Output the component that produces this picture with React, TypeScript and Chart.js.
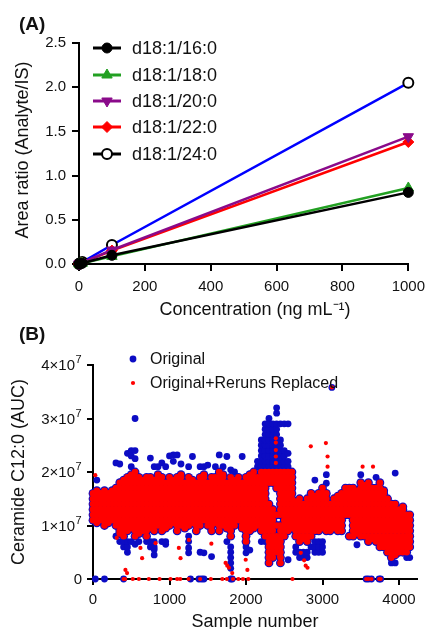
import React, { useEffect, useRef } from 'react';
import { Chart, registerables } from 'chart.js';

Chart.register(...registerables);

const FONT = "'Liberation Sans', Arial, Helvetica, sans-serif";
const TEXT = '#111111';

// ---------------- Panel A : calibration lines ----------------
const concentrations = [0, 1, 5, 10, 100, 1000];
const cer16 = [0, 0.001, 0.004, 0.009, 0.098, 0.81];
const cer18 = [0, 0.001, 0.004, 0.009, 0.086, 0.86];
const cer20 = [0, 0.002, 0.008, 0.016, 0.158, 1.44];
const cer22 = [0, 0.002, 0.007, 0.015, 0.152, 1.38];
const cer24 = [0, 0.002, 0.011, 0.022, 0.215, 2.05];
const seriesALabels = ['d18:1/16:0', 'd18:1/18:0', 'd18:1/20:0', 'd18:1/22:0', 'd18:1/24:0'];
const seriesAValues = [cer16, cer18, cer20, cer22, cer24];
const xTicksA = [0, 200, 400, 600, 800, 1000];
const yTicksA = [0, 0.5, 1, 1.5, 2, 2.5];

// ---------------- Panel B : Ceramide C12:0 AUC (x 1e6) ----------------
const xTicksB = [0, 1000, 2000, 3000, 4000];
const yTicksB = [0, 1, 2, 3, 4]; // x 1e7
const colX = [
  0, 50, 100, 150, 200, 250, 300, 350, 400, 450, 500, 550, 600, 650, 700, 750, 800, 850, 900, 950,
  1000, 1050, 1100, 1150, 1200, 1250, 1300, 1350, 1400, 1450, 1500, 1550, 1600, 1650, 1700, 1750, 1800, 1850, 1900, 1950,
  2000, 2050, 2100, 2150, 2200, 2250, 2300, 2350, 2400, 2450, 2500, 2550, 2600, 2650, 2700, 2750, 2800, 2850, 2900, 2950,
  3000, 3050, 3100, 3150, 3200, 3250, 3300, 3350, 3400, 3450, 3500, 3550, 3600, 3650, 3700, 3750, 3800, 3850, 3900, 3950,
  4000, 4050, 4100, 4140,
];
// values present in both series (not replaced)
const bandValues = [
  [11, 12, 13, 14, 15, 16],
  [10.5, 11, 12, 13, 14, 15, 16, 16.5],
  [11, 12, 13, 14, 15, 16],
  [10, 11, 12, 13, 14, 15, 16, 16.5],
  [10.5, 11, 12, 13, 14, 15, 16],
  [11, 12, 13, 14, 15, 16, 16.5],
  [10, 11, 12, 13, 14, 15, 16, 17],
  [8.5, 9, 10, 11, 12, 13, 14, 15, 16, 17, 18],
  [8, 9, 10, 11, 12, 13, 14, 15, 16, 17, 18, 18.5],
  [9, 10, 11, 12, 13, 14, 15, 16, 17, 18, 19],
  [9.5, 10, 11, 12, 13, 14, 15, 16, 17, 18, 19, 19.5],
  [8, 9, 10, 11, 12, 13, 14, 15, 16, 17, 18, 19, 20],
  [8.5, 9, 10, 11, 12, 13, 14, 15, 16, 17, 18, 19],
  [9, 10, 11, 12, 13, 14, 15, 16, 17, 18, 18.5],
  [8, 9, 10, 11, 12, 13, 14, 15, 16, 17, 18, 19],
  [9.5, 10, 11, 12, 13, 14, 15, 16, 17, 18, 19],
  [9, 10, 11, 12, 13, 14, 15, 16, 17, 18, 18.5],
  [10, 11, 12, 13, 14, 15, 16, 17, 18, 19, 19.5],
  [9, 10, 11, 12, 13, 14, 15, 16, 17, 18, 19],
  [9.5, 10, 11, 12, 13, 14, 15, 16, 17, 18],
  [10, 11, 12, 13, 14, 15, 16, 17, 18, 19],
  [10.5, 11, 12, 13, 14, 15, 16, 17, 18, 18.5],
  [9, 10, 11, 12, 13, 14, 15, 16, 17, 18, 19],
  [10, 11, 12, 13, 14, 15, 16, 17, 18, 19, 19.5],
  [9.5, 10, 11, 12, 13, 14, 15, 16, 17, 18],
  [10, 11, 12, 13, 14, 15, 16, 17, 18, 19],
  [10.5, 11, 12, 13, 14, 15, 16, 17, 18, 18.5],
  [9, 10, 11, 12, 13, 14, 15, 16, 17, 18],
  [10, 11, 12, 13, 14, 15, 16, 17, 18, 19],
  [11, 12, 13, 14, 15, 16, 17, 18, 19, 19.5],
  [10, 11, 12, 13, 14, 15, 16, 17, 18],
  [9, 10, 11, 12, 13, 14, 15, 16, 17, 18, 19],
  [10.5, 11, 12, 13, 14, 15, 16, 17, 18, 19],
  [9, 10, 11, 12, 13, 14, 15, 16, 17, 18, 19, 20],
  [10, 11, 12, 13, 14, 15, 16, 17, 18, 19, 19.5],
  [9.5, 10, 11, 12, 13, 14, 15, 16, 17, 18],
  [8, 9, 10, 11, 12, 13, 14, 15, 16, 17, 18, 19],
  [10, 11, 12, 13, 14, 15, 16, 17, 18, 18.5],
  [11, 12, 13, 14, 15, 16, 17, 18, 19],
  [9.5, 10, 11, 12, 13, 14, 15, 16, 17, 18],
  [7, 8, 9, 10, 11, 12, 13, 14, 15, 16, 17, 18, 19],
  [9, 10, 11, 12, 13, 14, 15, 16, 17, 18, 19, 19.5],
  [9.5, 10, 11, 12, 13, 14, 15, 16, 17, 18, 19, 20],
  [10, 11, 12, 13, 14, 15, 16, 17, 18, 19],
  [9, 10, 11, 12, 13, 14, 15, 16, 17, 18, 19, 20],
  [8, 9, 10, 11, 12, 13, 14, 15, 16, 17, 18, 19, 20],
  [3, 4, 5, 6, 7, 8, 9, 10, 11, 12, 13, 14, 18, 19, 20],
  [4, 5, 6, 7, 8, 9, 10, 11, 12, 13, 18, 19, 20],
  [5, 6, 7, 8, 10, 12, 17, 18, 19, 20],
  [3, 4, 5, 6, 7, 8, 9, 10, 12, 13, 14, 15, 16, 17, 18, 19, 20],
  [8, 9, 10, 11, 12, 13, 14, 15, 16, 17, 18, 19, 20],
  [9, 10, 11, 12, 13, 14, 15, 16, 17, 18, 19, 20],
  [9.5, 10, 11, 12, 13, 14, 15, 16, 17, 18, 19, 20],
  [8, 9, 10, 11, 12, 13, 14, 14.5],
  [7, 8, 9, 10, 11, 12, 13, 14, 15],
  [7.5, 8, 9, 10, 11, 12, 13, 14],
  [7, 8, 9, 10, 11, 12, 13, 14, 15],
  [8, 9, 10, 11, 12, 13, 14, 15, 16],
  [9, 10, 11, 12, 13, 14, 15, 15.5],
  [9, 10, 11, 12, 13, 14, 15, 16],
  [9.5, 10, 11, 12, 13, 14, 15, 16, 17],
  [9, 10, 11, 12, 13, 14, 15, 16],
  [9, 10, 11, 12, 13, 14],
  [9.5, 10, 11, 12, 13, 14, 15],
  [9, 10, 11, 12, 13, 14, 15, 15.5],
  [9, 10, 11, 12, 13, 14, 15, 16],
  [12, 13, 14, 15, 16, 17],
  [8, 12, 13, 14, 15, 16, 17],
  [8, 9, 10, 11, 12, 13, 14, 15, 16, 17],
  [8.5, 9, 10, 11, 12, 13, 14, 15, 16, 16.5],
  [8, 9, 10, 11, 12, 13, 14, 15, 16, 17, 18],
  [8, 9, 10, 11, 12, 13, 14, 15, 16, 17, 17.5],
  [7, 8, 9, 10, 11, 12, 13, 14, 15, 16, 17, 18],
  [7.5, 8, 9, 10, 11, 12, 13, 14, 15, 16, 17],
  [7, 8, 9, 10, 11, 12, 13, 14, 15, 16, 17],
  [6, 7, 8, 9, 10, 11, 12, 13, 14, 15, 16, 17, 18],
  [6, 7, 8, 9, 10, 11, 12, 13, 14, 15, 16, 16.5],
  [5, 6, 7, 8, 9, 10, 11, 12, 13, 14, 15],
  [4, 5, 6, 7, 8, 9, 10, 11, 12, 13, 14],
  [4.5, 5, 6, 7, 8, 9, 10, 11, 12, 13, 14],
  [5, 6, 7, 8, 9, 10, 11, 12, 13],
  [5, 6, 7, 8, 9, 10, 11, 12, 13, 13.5],
  [5, 6, 7, 8, 9, 10, 11, 12],
  [6, 7, 8, 9, 10, 11, 12],
];
// original-only values (later replaced by reruns)
const originalOnly = [
  [], [18.5], [], [], [], [], [8, 21.7], [7, 21.5],
  [6, 7], [5, 6, 7, 23.5], [7, 21, 24, 23], [6.5, 30, 24, 22.5], [7], [],
  [7], [6, 7, 22.6], [4.5, 5.5, 6, 7, 21], [21], [7, 21.7],
  [6.5, 7, 21], [23], [23.2, 22], [23.2], [21.5], [],
  [4.9, 5.8, 7, 8, 21], [22.9], [], [5, 21], [4.9, 21],
  [21.3], [4.2], [21], [23.2], [21], [7, 22.9],
  [2, 3, 4, 5, 6, 20.4], [20], [], [22.9], [4.9, 6],
  [5.4], [], [21, 22], [7, 21, 22, 23, 24, 25, 26],
  [7, 21, 22, 23, 24, 25, 26, 27, 28, 29], [21, 22, 23, 24, 25, 26, 27, 28, 29, 30],
  [21, 22, 23, 24, 25, 26, 27, 28, 29], [21, 22, 23, 24, 25, 26, 27, 28, 29, 31, 32],
  [21, 22, 23, 24, 25, 26, 29], [21, 22, 23, 24, 29], [3.6, 21, 22, 23.5, 29], [],
  [5, 6], [4, 5], [4, 5], [4, 5], [6], [5, 6, 7, 18.5],
  [5, 6, 7], [5, 6, 7], [17.9, 19.5], [], [], [], [],
  [], [], [], [6.4], [19.5], [], [], [], [19],
  [], [], [], [3], [3, 19.8], [], [], [4], [4],
];
const originalOutX = [3122, 30, 150, 400, 1275, 1385, 1420, 1450, 1800, 1820, 3570, 3600, 3640, 3740, 3760];
const originalOutY = [35.8, 0, 0, 0, 0, 0, 0, 0, 0, 0, 0, 0, 0, 0, 0];
const replacedOutX = [
  30, 310, 424, 445, 620, 642, 817, 1122, 1144, 1253, 1547, 1733, 1755, 1777, 1820, 1996, 2018,
  2390, 2390, 2390, 2390, 2390, 2432, 2716, 2760, 2780, 2804, 2847, 3044, 3066, 3066, 3524, 3660, 3122,
  400, 420, 520, 600, 730, 870, 1013, 1100, 1140, 1250, 1400, 1540, 1690, 1750, 1830, 1900, 1960, 2030,
  2607, 3570, 3600, 3640, 3740, 3760,
];
const replacedOutY = [
  19.4, 7.7, 1.7, 1.1, 5.8, 3.9, 6.7, 5.8, 3.9, 7.3, 6.6, 3.0, 2.5, 2.1, 1.1, 3.6, 1.7,
  26.3, 25.5, 24.1, 22.9, 21.7, 4.2, 4.9, 3.5, 2.5, 2.1, 24.8, 25.4, 22.9, 21, 21, 21, 35.8,
  0, 0, 0, 0, 0, 0, 0, 0, 0, 0, 0, 0, 0, 0, 0, 0, 0, 0,
  0, 0, 0, 0, 0, 0,
];
const AUC_UNIT = 1e6;

// ---------------- styles ----------------
const stylesA = [
  { line: '#000000', legendLine: '#000000', shape: 'circle', fill: '#000000', stroke: '#000000', bw: 1, rot: 0, r: 5 },
  { line: '#22a022', legendLine: '#22a022', shape: 'triangle', fill: '#22a022', stroke: '#22a022', bw: 1, rot: 0, r: 6 },
  { line: '#8a0a8a', legendLine: '#8a0a8a', shape: 'triangle', fill: '#8a0a8a', stroke: '#8a0a8a', bw: 1, rot: 180, r: 6 },
  { line: '#ff0000', legendLine: '#ff0000', shape: 'rectRot', fill: '#ff0000', stroke: '#ff0000', bw: 1, rot: 0, r: 5.5 },
  { line: '#0000ff', legendLine: '#000000', shape: 'circle', fill: '#ffffff', stroke: '#000000', bw: 2, rot: 0, r: 5 },
];
const BLUE = '#0c0cc4';
const RED = '#ff0000';

function drawMarker(ctx: CanvasRenderingContext2D, s: any, x: number, y: number) {
  ctx.save();
  ctx.translate(x, y);
  ctx.rotate((s.rot * Math.PI) / 180);
  ctx.beginPath();
  const r = s.r;
  if (s.shape === 'circle') {
    ctx.arc(0, 0, r, 0, Math.PI * 2);
  } else if (s.shape === 'triangle') {
    for (let k = 0; k < 3; k++) {
      const a = (k * 2 * Math.PI) / 3;
      const px = Math.sin(a) * r;
      const py = -Math.cos(a) * r;
      if (k === 0) ctx.moveTo(px, py);
      else ctx.lineTo(px, py);
    }
    ctx.closePath();
  } else {
    ctx.moveTo(-r, 0);
    ctx.lineTo(0, -r);
    ctx.lineTo(r, 0);
    ctx.lineTo(0, r);
    ctx.closePath();
  }
  ctx.fillStyle = s.fill;
  ctx.fill();
  ctx.lineWidth = s.bw;
  ctx.strokeStyle = s.stroke;
  ctx.stroke();
  ctx.restore();
}

function axisCommon(fontSize: number, tickLen: number, pad: number) {
  return {
    ticks: { font: { family: FONT, size: fontSize }, color: TEXT, padding: pad, maxRotation: 0, autoSkip: false },
    grid: { drawOnChartArea: false, drawTicks: true, tickLength: tickLen, color: '#000000', lineWidth: 2 },
    border: { display: true, color: '#000000', width: 2 },
  };
}

const setTicks = (vals: number[]) => (s: any) => {
  s.ticks = vals.map((v) => ({ value: v }));
};

const panelAPlugin = {
  id: 'panelADecor',
  afterDraw(chart: any) {
    const ctx: CanvasRenderingContext2D = chart.ctx;
    ctx.save();
    ctx.fillStyle = TEXT;
    ctx.textBaseline = 'middle';
    ctx.font = `bold 19px ${FONT}`;
    ctx.textAlign = 'left';
    ctx.fillText('(A)', 19, 25);
    ctx.font = `18px ${FONT}`;
    ctx.textAlign = 'center';
    ctx.fillText('Concentration (ng mL\u207B\u00B9)', 255, 310);
    ctx.save();
    ctx.translate(23, 150);
    ctx.rotate(-Math.PI / 2);
    ctx.fillText('Area ratio (Analyte/IS)', 0, 0);
    ctx.restore();
    // legend
    const rows = [48, 75, 101, 127, 154];
    seriesALabels.forEach((lab, i) => {
      const s = stylesA[i];
      const y = rows[i];
      ctx.beginPath();
      ctx.moveTo(93, y);
      ctx.lineTo(121, y);
      ctx.lineWidth = 3;
      ctx.strokeStyle = s.legendLine;
      ctx.stroke();
      drawMarker(ctx, s, 107, y);
      ctx.fillStyle = TEXT;
      ctx.font = `18px ${FONT}`;
      ctx.textAlign = 'left';
      ctx.textBaseline = 'middle';
      ctx.fillText(lab, 132, y + 1);
    });
    ctx.restore();
  },
};

const panelBPlugin = {
  id: 'panelBDecor',
  afterDraw(chart: any) {
    const ctx: CanvasRenderingContext2D = chart.ctx;
    const yScale = chart.scales.y;
    ctx.save();
    ctx.fillStyle = TEXT;
    ctx.textBaseline = 'middle';
    ctx.font = `bold 19px ${FONT}`;
    ctx.textAlign = 'left';
    ctx.fillText('(B)', 19, 15);
    ctx.font = `18px ${FONT}`;
    ctx.textAlign = 'center';
    ctx.fillText('Sample number', 255, 302);
    ctx.save();
    ctx.translate(19, 152);
    ctx.rotate(-Math.PI / 2);
    ctx.fillText('Ceramide C12:0 (AUC)', 0, 0);
    ctx.restore();
    // y tick labels with superscript exponent
    yTicksB.forEach((m) => {
      const py = yScale.getPixelForValue(m * 1e7);
      ctx.fillStyle = TEXT;
      ctx.textAlign = 'right';
      ctx.textBaseline = 'middle';
      if (m === 0) {
        ctx.font = `15px ${FONT}`;
        ctx.fillText('0', 82, py + 1);
      } else {
        ctx.font = `15px ${FONT}`;
        ctx.fillText(`${m}\u00D710`, 75, py + 1);
        ctx.font = `11px ${FONT}`;
        ctx.textAlign = 'left';
        ctx.fillText('7', 75.5, py - 5);
      }
    });
    // legend
    ctx.beginPath();
    ctx.arc(133, 39, 3.4, 0, Math.PI * 2);
    ctx.fillStyle = BLUE;
    ctx.fill();
    ctx.beginPath();
    ctx.arc(133, 63, 2.1, 0, Math.PI * 2);
    ctx.fillStyle = RED;
    ctx.fill();
    ctx.fillStyle = TEXT;
    ctx.font = `16px ${FONT}`;
    ctx.textAlign = 'left';
    ctx.textBaseline = 'middle';
    ctx.fillText('Original', 150, 40);
    ctx.fillText('Original+Reruns Replaced', 150, 64);
    ctx.restore();
  },
};

function ChartA() {
  const ref = useRef<HTMLCanvasElement | null>(null);
  useEffect(() => {
    if (!ref.current) return;
    const datasets = seriesALabels.map((label, i) => {
      const s = stylesA[i];
      return {
        label,
        data: concentrations.map((c, k) => ({ x: c, y: seriesAValues[i][k] })),
        borderColor: s.line,
        borderWidth: 2.5,
        pointStyle: s.shape,
        pointRadius: s.r,
        pointRotation: s.rot,
        pointBackgroundColor: s.fill,
        pointBorderColor: s.stroke,
        pointBorderWidth: s.bw,
        tension: 0,
        clip: false,
      };
    });
    const cA = axisCommon(15, 7, 7);
    const chart = new Chart(ref.current, {
      type: 'line',
      data: { datasets } as any,
      plugins: [panelAPlugin],
      options: {
        animation: false,
        responsive: false,
        maintainAspectRatio: false,
        devicePixelRatio: 1,
        events: [],
        layout: { padding: { left: 0, top: 43, right: 21, bottom: 0 } },
        plugins: { legend: { display: false }, tooltip: { enabled: false } },
        scales: {
          x: {
            type: 'linear',
            min: 0,
            max: 1000,
            ...cA,
            ticks: { ...cA.ticks, callback: (v: any) => String(v) },
            afterBuildTicks: setTicks(xTicksA),
            afterFit: (s: any) => { s.height = 56; },
          },
          y: {
            type: 'linear',
            min: 0,
            max: 2.5,
            ...cA,
            ticks: { ...cA.ticks, padding: 6, callback: (v: any) => Number(v).toFixed(1) },
            afterBuildTicks: setTicks(yTicksA),
            afterFit: (s: any) => { s.width = 79; },
          },
        },
      } as any,
    });
    return () => chart.destroy();
  }, []);
  return <canvas ref={ref} width={432} height={320} style={{ display: 'block', width: 432, height: 320 }} />;
}

function ChartB() {
  const ref = useRef<HTMLCanvasElement | null>(null);
  useEffect(() => {
    if (!ref.current) return;
    const bandPts: { x: number; y: number }[] = [];
    const origPts: { x: number; y: number }[] = [];
    colX.forEach((x, i) => {
      (bandValues[i] || []).forEach((v) => bandPts.push({ x, y: v * AUC_UNIT }));
      (originalOnly[i] || []).forEach((v) => origPts.push({ x, y: v * AUC_UNIT }));
    });
    originalOutX.forEach((x, i) => origPts.push({ x, y: originalOutY[i] * AUC_UNIT }));
    const repOut = replacedOutX.map((x, i) => ({ x, y: replacedOutY[i] * AUC_UNIT }));
    const cB = axisCommon(15, 6, 6);
    const chart = new Chart(ref.current, {
      type: 'scatter',
      data: {
        datasets: [
          { label: 'Original', data: bandPts, order: 4, pointRadius: 4.4, pointBackgroundColor: BLUE, pointBorderWidth: 0, clip: false },
          { label: 'Original ', data: origPts, order: 3, pointRadius: 3.4, pointBackgroundColor: BLUE, pointBorderWidth: 0, clip: false },
          { label: 'Original+Reruns Replaced', data: bandPts, order: 2, pointRadius: 3.3, pointBackgroundColor: RED, pointBorderWidth: 0, clip: false },
          { label: 'Original+Reruns Replaced ', data: repOut, order: 1, pointRadius: 2.1, pointBackgroundColor: RED, pointBorderWidth: 0, clip: false },
        ],
      } as any,
      plugins: [panelBPlugin],
      options: {
        animation: false,
        responsive: false,
        maintainAspectRatio: false,
        devicePixelRatio: 1,
        events: [],
        layout: { padding: { left: 0, top: 45, right: 15, bottom: 0 } },
        plugins: { legend: { display: false }, tooltip: { enabled: false } },
        scales: {
          x: {
            type: 'linear',
            min: 0,
            max: 4235,
            ...cB,
            ticks: { ...cB.ticks, callback: (v: any) => String(v) },
            afterBuildTicks: setTicks(xTicksB),
            afterFit: (s: any) => { s.height = 50; },
          },
          y: {
            type: 'linear',
            min: 0,
            max: 4e7,
            ...cB,
            ticks: { ...cB.ticks, display: false },
            afterBuildTicks: setTicks(yTicksB.map((m) => m * 1e7)),
            afterFit: (s: any) => { s.width = 93; },
          },
        },
      } as any,
    });
    return () => chart.destroy();
  }, []);
  return <canvas ref={ref} width={432} height={309} style={{ display: 'block', width: 432, height: 309 }} />;
}

export default function App() {
  return (
    <div style={{ position: 'fixed', left: 0, top: 0, width: 432, height: 629, background: '#ffffff', overflow: 'hidden' }}>
      <ChartA />
      <ChartB />
    </div>
  );
}
